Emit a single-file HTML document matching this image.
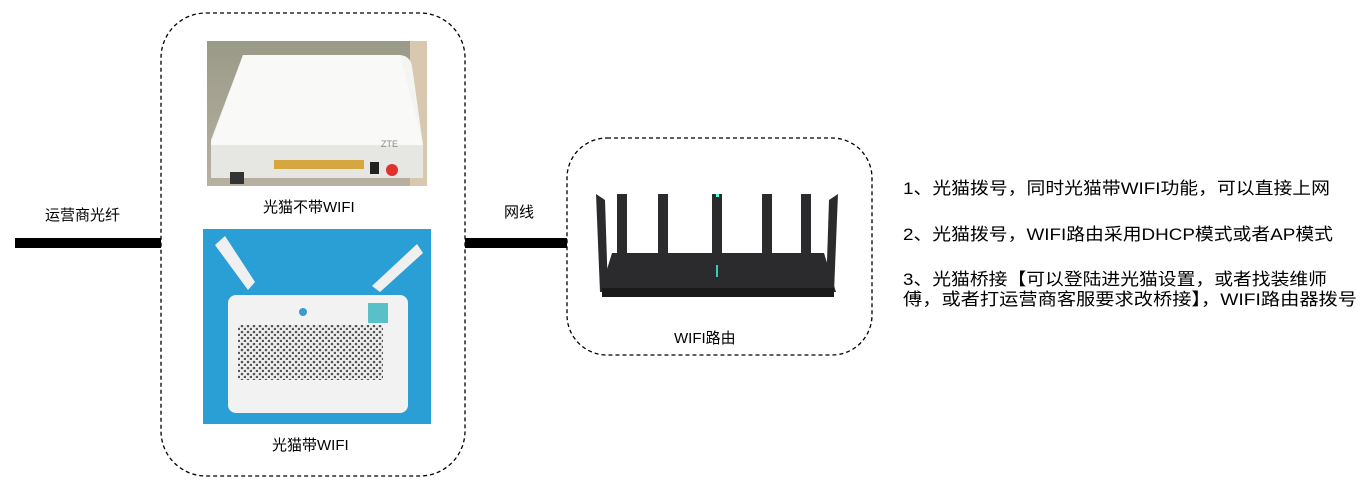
<!DOCTYPE html>
<html><head><meta charset="utf-8"><style>
body{margin:0;background:#fff;width:1368px;height:490px;overflow:hidden;font-family:"Liberation Sans","Noto Sans CJK SC",sans-serif}
svg{position:absolute;left:0;top:0}
text{font-family:"Liberation Sans","Noto Sans CJK SC",sans-serif;font-size:15px;fill:#000}
.r{font-size:17px}
</style></head><body>
<svg width="1368" height="490" viewBox="0 0 1368 490">
<defs>
<pattern id="dots" width="6" height="6" patternUnits="userSpaceOnUse"><rect width="6" height="6" fill="#eee"/><circle cx="2" cy="2" r="1.3" fill="#555"/><circle cx="5" cy="5" r="1.3" fill="#555"/></pattern>
<linearGradient id="bg1" x1="0" y1="0" x2="0" y2="1"><stop offset="0" stop-color="#9a9a88"/><stop offset="1" stop-color="#b8b0a0"/></linearGradient>
</defs>
<rect x="15" y="238" width="146" height="10" fill="#000"/>
<rect x="465" y="238" width="102" height="10" fill="#000"/>
<text x="45" y="220">运营商光纤</text>
<text x="504" y="217">网线</text>
<rect x="161" y="13" width="304" height="463" rx="45" fill="none" stroke="#000" stroke-width="1.3" stroke-dasharray="4,3"/>
<rect x="567" y="138" width="305" height="217" rx="40" fill="none" stroke="#000" stroke-width="1.3" stroke-dasharray="4,3"/>
<rect x="207" y="41" width="220" height="145" fill="url(#bg1)"/>
<rect x="410" y="41" width="17" height="145" fill="#d8c8b0"/>
<path d="M243 55 L400 55 Q410 56 412 66 L423 145 L423 178 L211 178 L211 140 Z" fill="#f4f5f3"/>
<path d="M243 55 L400 55 L423 145 L211 145 Z" fill="#f9faf8"/>
<rect x="211" y="145" width="212" height="33" fill="#e6e6e2"/>
<rect x="274" y="160" width="90" height="9" fill="#d6a640"/>
<rect x="370" y="162" width="9" height="12" fill="#222"/>
<circle cx="392" cy="170" r="6" fill="#e03030"/>
<rect x="230" y="172" width="14" height="12" fill="#333"/>
<text x="381" y="147" style="font-size:9px;fill:#888">ZTE</text>
<rect x="203" y="229" width="228" height="195" fill="#2a9fd6"/>
<path d="M215 245 L225 236 L255 282 L248 290 Z" fill="#f0f0f0"/>
<path d="M417 244 L423 253 L380 292 L372 286 Z" fill="#f0f0f0"/>
<rect x="228" y="295" width="180" height="118" rx="8" fill="#f2f2f2"/>
<rect x="238" y="325" width="145" height="55" fill="url(#dots)"/>
<rect x="368" y="303" width="20" height="20" fill="#5ac0c8"/>
<circle cx="303" cy="312" r="4" fill="#3a9ad0"/>
<g fill="#2b2b2d">
<path d="M596 194 L605 200 L608 292 L600 292 Z"/>
<rect x="617" y="194" width="10" height="70"/>
<rect x="658" y="194" width="10" height="70"/>
<rect x="712" y="194" width="10" height="70"/>
<rect x="762" y="194" width="10" height="70"/>
<rect x="801" y="194" width="10" height="70"/>
<path d="M838 194 L829 200 L826 292 L834 292 Z"/>
<path d="M612 253 L824 253 L836 292 L600 292 Z"/>
<rect x="602" y="288" width="232" height="9" fill="#1a1a1a"/>
</g>
<rect x="716" y="194" width="3" height="3" fill="#5fd"/>
<rect x="716" y="265" width="2" height="12" fill="#3cb"/>
<text x="674" y="343">WIFI路由</text>
<text x="263" y="212">光猫不带WIFI</text>
<text x="272" y="450">光猫带WIFI</text>
<text class="r" x="903" y="194" textLength="427" lengthAdjust="spacingAndGlyphs">1、光猫拨号，同时光猫带WIFI功能，可以直接上网</text>
<text class="r" x="903" y="240" textLength="430" lengthAdjust="spacingAndGlyphs">2、光猫拨号，WIFI路由采用DHCP模式或者AP模式</text>
<text class="r" x="903" y="285" textLength="424" lengthAdjust="spacingAndGlyphs">3、光猫桥接【可以登陆进光猫设置，或者找装维师</text>
<text class="r" x="903" y="305" textLength="454" lengthAdjust="spacingAndGlyphs">傅，或者打运营商客服要求改桥接】，WIFI路由器拨号</text>
</svg>
</body></html>
